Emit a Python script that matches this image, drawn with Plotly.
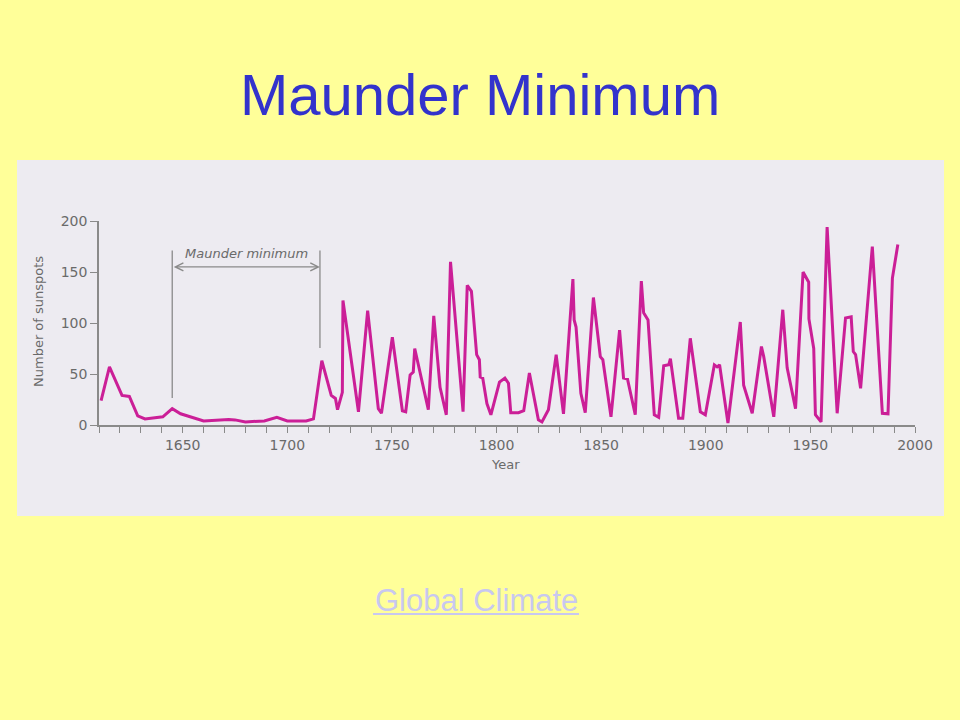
import plotly.graph_objects as go

# ---- data ----
years = [1611, 1615, 1621, 1624.5, 1628.5, 1632, 1640.5, 1645, 1649, 1656, 1660, 1672, 1675, 1680,
         1689, 1695, 1700, 1709, 1712.5, 1716.5, 1721, 1723, 1724, 1726.3, 1726.6, 1734, 1738.4,
         1743.5, 1745, 1750.2, 1755, 1756.6, 1758.7, 1760.2, 1760.9, 1767.4, 1770, 1773, 1776, 1778,
         1784, 1786, 1788, 1790.5, 1791.8, 1792.2, 1793.4, 1795.4, 1797.3, 1801.4, 1804, 1805.7,
         1806.8, 1810.5, 1813, 1815.7, 1820, 1821.7, 1824.8, 1828.5, 1832, 1836.5, 1837.1, 1838,
         1840.3, 1842.4, 1846.3, 1849.6, 1850.8, 1854.7, 1858.8, 1860.7, 1862.6, 1866.3, 1869.2,
         1870.3, 1872.4, 1875.4, 1877.5, 1879.9, 1882.3, 1883.1, 1887, 1889, 1892.6, 1897.4, 1899.8,
         1904.1, 1905.4, 1906.6, 1910.6, 1916.5, 1918.1, 1922.2, 1926.6, 1927.7, 1932.5, 1936.8,
         1938.9, 1942.9, 1946.5, 1949.2, 1949.3, 1951.6, 1952.4, 1955.1, 1958, 1962.8, 1966.8,
         1969.5, 1970.5, 1971.6, 1974, 1979.6, 1984.4, 1987.1, 1989.2, 1991.8]
sunspots = [24, 57, 29, 28, 9, 6, 8, 16, 11, 7, 4, 5.5, 5, 3,
            4, 7.5, 4, 4, 6, 63, 29, 26, 15, 32, 122, 13, 112,
            16, 11.5, 86, 14, 13, 49, 52, 75, 15, 107, 37, 10, 160,
            13, 137, 131, 69, 64, 47, 46, 21, 10, 42, 46, 41,
            12, 12, 14, 51, 5, 3, 15, 69, 11, 143, 103, 96,
            31, 12, 125, 67, 64, 8, 93, 46, 45, 10, 141,
            110, 103, 10, 7.5, 58, 59, 65, 6.5, 6.5, 85, 13, 10,
            59, 57, 59, 2, 101, 39, 11.5, 77, 67, 8, 113,
            56, 16, 150, 140, 104, 75, 10, 3, 194, 11.5, 105,
            106, 72, 69, 36, 175, 11.5, 11, 144, 177]

x_tick_vals = list(range(1610, 2001, 10))
x_tick_text = [str(v) if v % 50 == 0 else "" for v in x_tick_vals]
y_tick_vals = [0, 50, 100, 150, 200]
y_tick_text = ["0", "50", "100", "150", "200"]

maunder_start = 1645
maunder_end = 1715.6
title_text = "Maunder Minimum"
link_text = "Global Climate"

# ---- layout helpers (pixel -> paper) ----
W, H = 960, 720
ML, MR, MT, MB = 99, 45, 221, 295
PW, PH = W - ML - MR, H - MT - MB


def px(x):
    return (x - ML) / PW


def py(y):
    return (H - MB - y) / PH


AX_COL = "#8a8a8a"
TXT_COL = "#6a6a6a"
PANEL = "#EDEBF1"

fig = go.Figure()
fig.add_trace(go.Scatter(x=years, y=sunspots, mode="lines",
                         line=dict(color="#CB1F97", width=3), hoverinfo="skip",
                         showlegend=False))

shapes = [
    # grey panel
    dict(type="rect", xref="paper", yref="paper", x0=px(17), x1=px(944), y0=py(516), y1=py(160),
         fillcolor=PANEL, line=dict(width=0), layer="below"),
    # Maunder minimum bracket lines
    dict(type="line", xref="x", yref="y", x0=maunder_start, x1=maunder_start, y0=26.5, y1=171,
         line=dict(color=AX_COL, width=1.3)),
    dict(type="line", xref="x", yref="y", x0=maunder_end, x1=maunder_end, y0=75.5, y1=171,
         line=dict(color=AX_COL, width=1.3)),
    # link underline
    dict(type="line", xref="paper", yref="paper", x0=px(373), x1=px(579), y0=py(614), y1=py(614),
         line=dict(color="#C8C8F0", width=2)),
]

C = dict(xanchor="center", yanchor="middle", showarrow=False)
annotations = [
    dict(x=maunder_end, y=155, ax=maunder_start, ay=155, xref="x", yref="y", axref="x", ayref="y",
         text="", showarrow=True, arrowhead=5, startarrowhead=5, arrowside="end+start",
         arrowwidth=1.2, arrowsize=1.3, startarrowsize=1.3, arrowcolor=AX_COL),
    dict(x=(maunder_start + maunder_end) / 2, y=168, xref="x", yref="y", text="<i>Maunder minimum</i>",
         font=dict(family="DejaVu Sans", size=13, color=TXT_COL), **C),
    dict(x=px(38), y=py(322), xref="paper", yref="paper", text="Number of sunspots", textangle=-90,
         font=dict(family="DejaVu Sans", size=13, color=TXT_COL), **C),
    dict(x=px(505), y=py(464), xref="paper", yref="paper", text="Year",
         font=dict(family="DejaVu Sans", size=13, color=TXT_COL), **C),
    dict(x=px(480), y=py(94), xref="paper", yref="paper", text=title_text,
         font=dict(family="Liberation Sans", size=58, color="#3333CC"), **C),
    dict(x=px(476), y=py(600), xref="paper", yref="paper", text=link_text,
         font=dict(family="Liberation Sans", size=31, color="#C8C8F0"), **C),
]

fig.update_layout(
    width=W, height=H,
    margin=dict(l=ML, r=MR, t=MT, b=MB),
    paper_bgcolor="#FFFF99", plot_bgcolor=PANEL,
    shapes=shapes, annotations=annotations,
    xaxis=dict(range=[1610, 2000], tickmode="array", tickvals=x_tick_vals, ticktext=x_tick_text,
               showgrid=False, zeroline=False, showline=True, linecolor=AX_COL, linewidth=1.5,
               ticks="outside", ticklen=6, tickwidth=1.3, tickcolor=AX_COL,
               tickfont=dict(family="DejaVu Sans", size=14, color=TXT_COL), fixedrange=True),
    yaxis=dict(range=[0, 200], tickmode="array", tickvals=y_tick_vals, ticktext=y_tick_text,
               showgrid=False, zeroline=False, showline=True, linecolor=AX_COL, linewidth=1.5,
               ticks="outside", ticklen=7, tickwidth=1.3, tickcolor=AX_COL,
               tickfont=dict(family="DejaVu Sans", size=14, color=TXT_COL), fixedrange=True),
    showlegend=False,
)

fig.write_html("out.html", config={"displayModeBar": False},
               post_script="document.body.style.margin='0';document.body.style.overflow='hidden';")
